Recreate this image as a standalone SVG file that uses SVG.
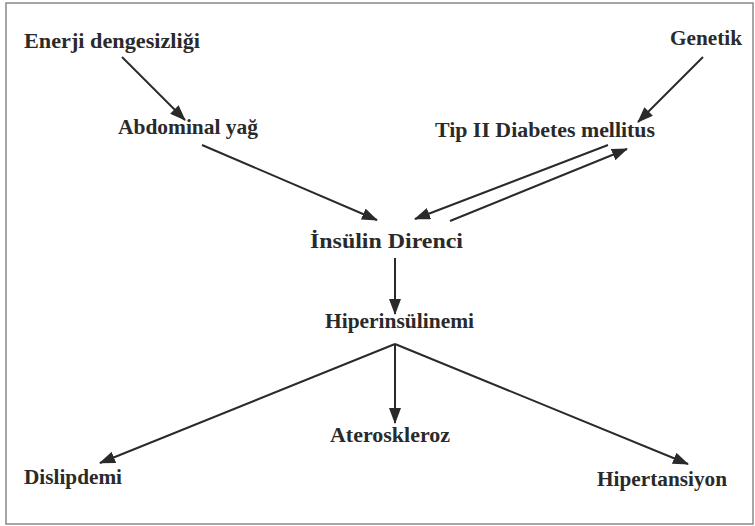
<svg xmlns="http://www.w3.org/2000/svg" width="755" height="526" viewBox="0 0 755 526">
<style>
.t{font-family:"Liberation Serif","DejaVu Serif",serif;font-weight:bold;font-size:21.5px;fill:#2a2a2a}
.c line,.c path{stroke:#2a2a2a;stroke-width:2;fill:none}
</style>
<defs>
<marker id="ah" markerUnits="userSpaceOnUse" markerWidth="16" markerHeight="12" refX="15" refY="6" orient="auto">
<path d="M0,0 L16,6 L0,12 Z" fill="#2a2a2a"/>
</marker>
</defs>
<rect x="0" y="0" width="755" height="526" fill="#fff"/>
<rect x="6" y="3" width="747" height="521" fill="none" stroke="#888" stroke-width="1.5"/>
<g class="c" id="connectors">
<line x1="122" y1="57" x2="185" y2="120" marker-end="url(#ah)"/>
<line x1="202" y1="145" x2="377" y2="220" marker-end="url(#ah)"/>
<line x1="703" y1="57" x2="638" y2="122" marker-end="url(#ah)"/>
<line x1="608" y1="145" x2="415" y2="219" marker-end="url(#ah)"/>
<line x1="450" y1="221" x2="627" y2="149" marker-end="url(#ah)"/>
<line x1="395" y1="258" x2="395" y2="314" marker-end="url(#ah)"/>
<line x1="395" y1="344" x2="395" y2="423" marker-end="url(#ah)"/>
<line x1="395" y1="344" x2="100" y2="463" marker-end="url(#ah)"/>
<line x1="395" y1="344" x2="688" y2="464" marker-end="url(#ah)"/>
</g>
<g id="n1"><text class="t" x="24" y="48" textLength="176" lengthAdjust="spacingAndGlyphs">Enerji dengesizliği</text></g>
<g id="n2"><text class="t" x="118" y="134" textLength="140" lengthAdjust="spacingAndGlyphs">Abdominal yağ</text></g>
<g id="n3"><text class="t" x="670" y="45" textLength="72" lengthAdjust="spacingAndGlyphs">Genetik</text></g>
<g id="n4"><text class="t" x="435" y="137" textLength="220" lengthAdjust="spacingAndGlyphs">Tip II Diabetes mellitus</text></g>
<g id="n5"><text class="t" x="310" y="248" textLength="153" lengthAdjust="spacingAndGlyphs">İnsülin Direnci</text></g>
<g id="n6"><text class="t" x="325" y="328" textLength="149" lengthAdjust="spacingAndGlyphs">Hiperinsülinemi</text></g>
<g id="n7"><text class="t" x="330" y="442" textLength="120" lengthAdjust="spacingAndGlyphs">Ateroskleroz</text></g>
<g id="n8"><text class="t" x="24" y="484" textLength="98" lengthAdjust="spacingAndGlyphs">Dislipdemi</text></g>
<g id="n9"><text class="t" x="597" y="486" textLength="130" lengthAdjust="spacingAndGlyphs">Hipertansiyon</text></g>
</svg>
